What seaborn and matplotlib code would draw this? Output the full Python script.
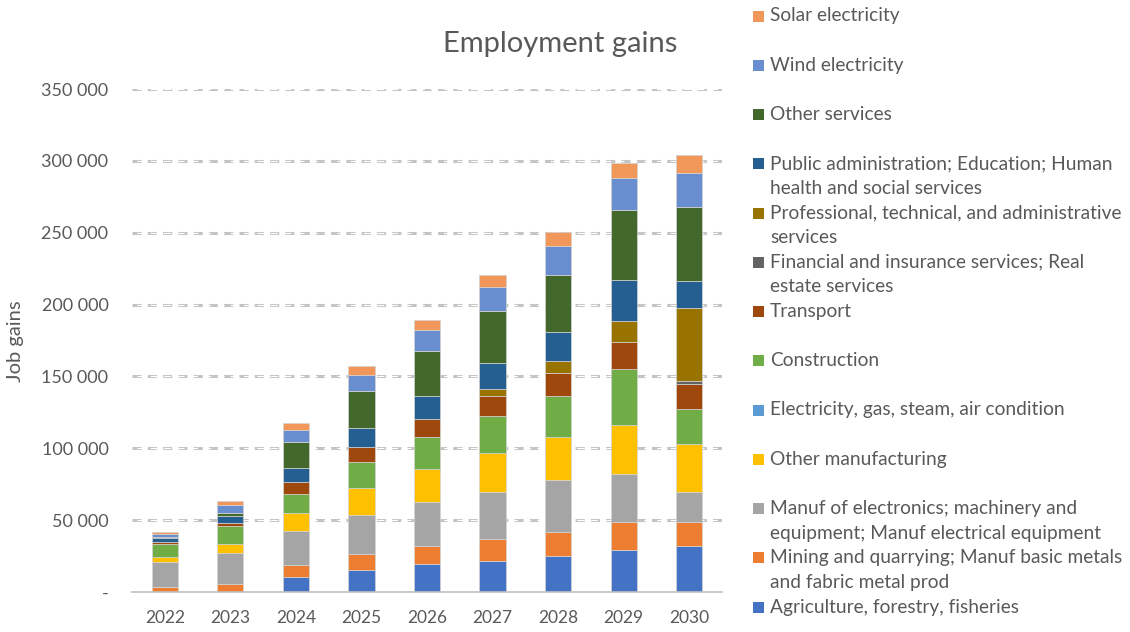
import matplotlib
matplotlib.use("Agg")
import matplotlib.pyplot as plt
import matplotlib.ticker as mticker
from matplotlib.patches import Rectangle
import seaborn as sns
import pandas as pd
import numpy as np

# --- data ---
years = ["2022", "2023", "2024", "2025", "2026", "2027", "2028", "2029", "2030"]

sectors = [
    "Agriculture, forestry, fisheries",
    "Mining and quarrying; Manuf basic metals and fabric metal prod",
    "Manuf of electronics; machinery and equipment; Manuf electrical equipment",
    "Other manufacturing",
    "Electricity, gas, steam, air condition",
    "Construction",
    "Transport",
    "Financial and insurance services; Real estate services",
    "Professional, technical, and administrative services",
    "Public administration; Education; Human health and social services",
    "Other services",
    "Wind electricity",
    "Solar electricity",
]

legend_labels = [
    "Agriculture, forestry, fisheries",
    "Mining and quarrying; Manuf basic metals\nand fabric metal prod",
    "Manuf of electronics; machinery and\nequipment; Manuf electrical equipment",
    "Other manufacturing",
    "Electricity, gas, steam, air condition",
    "Construction",
    "Transport",
    "Financial and insurance services; Real\nestate services",
    "Professional, technical, and administrative\nservices",
    "Public administration; Education; Human\nhealth and social services",
    "Other services",
    "Wind electricity",
    "Solar electricity",
]

agriculture = [0, 0, 10200, 15500, 19500, 21500, 24800, 29400, 31700]
mining = [3200, 5600, 8300, 10900, 12500, 15700, 16900, 19200, 16900]
manuf_electronics = [17600, 21300, 23600, 26900, 30800, 32600, 36100, 33300, 20800]
other_manufacturing = [3900, 6300, 13200, 19200, 22900, 27100, 30100, 34500, 33800]
electricity_gas = [0, 0, 0, 0, 0, 0, 0, 0, 0]
construction = [8600, 12500, 13200, 18300, 22500, 25500, 28200, 39100, 23800]
transport = [1400, 2100, 7900, 10200, 12300, 13900, 16400, 18500, 18000]
financial = [0, 0, 0, 0, 0, 0, 0, 0, 2100]
professional = [0, 0, 0, 0, 0, 5300, 8300, 14600, 50700]
public_admin = [3200, 4900, 9700, 13200, 16200, 18000, 20100, 28500, 18500]
other_services = [600, 2100, 18500, 26000, 30800, 35900, 40000, 48600, 51600]
wind = [1900, 5600, 8300, 11000, 14600, 16900, 19900, 22200, 23800]
solar = [1600, 3200, 4900, 6000, 6900, 7900, 9500, 10900, 12300]

series = [agriculture, mining, manuf_electronics, other_manufacturing, electricity_gas,
          construction, transport, financial, professional, public_admin,
          other_services, wind, solar]

colors = ["#4472C4", "#ED7D31", "#A5A5A5", "#FFC000", "#5B9BD5", "#70AD47", "#9E480E",
          "#636363", "#997300", "#255E91", "#43682B", "#698ED0", "#F1975A"]

text_color = "#595959"

sns.set_theme(style="white")
plt.rcParams["font.family"] = ["Lato", "DejaVu Sans"]

fig = plt.figure(figsize=(11.3, 6.32), dpi=100)
ax = fig.add_axes([132 / 1130, 1 - 592 / 632, (722 - 132) / 1130, (592 - 89) / 632])

# --- stacked bars ---
bottom = np.zeros(len(years))
for name, vals, col in zip(sectors, series, colors):
    df = pd.DataFrame({"year": years, "jobs": vals})
    sns.barplot(data=df, x="year", y="jobs", color=col, width=0.4, bottom=bottom,
                edgecolor="#d4d4d4", linewidth=0.5, saturation=1, ax=ax, zorder=3)
    bottom = bottom + np.array(vals)

# empty segments should not leave an outline behind
for p in ax.patches:
    if p.get_height() == 0:
        p.set_visible(False)

# --- axes styling ---
ax.set_ylim(0, 350000)
ax.set_xlim(-0.5, len(years) - 0.5)
ax.set_xlabel("")
ax.set_ylabel("")

yticks = np.arange(0, 350001, 50000)
ax.set_yticks(yticks)
ax.yaxis.set_major_formatter(mticker.FuncFormatter(
    lambda v, p: "-" if v == 0 else f"{int(v):,}".replace(",", " ")))
ax.tick_params(axis="y", length=0, labelsize=13, labelcolor=text_color, pad=17)
ax.tick_params(axis="x", which="major", length=0, labelsize=12.5, labelcolor=text_color, pad=13)

ax.set_xticks(np.arange(-0.5, len(years), 1.0), minor=True)
ax.tick_params(axis="x", which="minor", length=6, width=1, color="#bfbfbf", direction="out")

for s in ["left", "right", "top"]:
    ax.spines[s].set_visible(False)
ax.spines["bottom"].set_color("#bfbfbf")
ax.spines["bottom"].set_linewidth(1.2)
ax.spines["bottom"].set_zorder(4)

# dashed double-line gridlines
for y in yticks[1:]:
    ax.axhline(y, color="#c4c4c4", lw=2.2, linestyle=(0, (3.0, 2.0)), zorder=1)
    ax.axhline(y, color="white", lw=0.8, linestyle=(7.6, (6.4, 5.6)), zorder=1.5)

# --- titles ---
fig.text(560 / 1130, 1 - 44 / 632, "Employment gains", ha="center", va="center",
         fontsize=21, color=text_color)
fig.text(16 / 1130, 1 - 341 / 632, "Job gains", ha="center", va="center",
         rotation=90, fontsize=14.5, color=text_color)

# --- legend (reverse order, evenly spaced like the original) ---
first_y = 16
step = 49.25
for i, (lab, col) in enumerate(zip(legend_labels[::-1], colors[::-1])):
    yc = first_y + i * step
    fig.patches.append(Rectangle((753 / 1130, 1 - (yc + 5.5) / 632), 11 / 1130, 11 / 632,
                                 transform=fig.transFigure, facecolor=col,
                                 edgecolor="none", figure=fig))
    fig.text(770 / 1130, 1 - (yc - 8.5) / 632, lab, ha="left", va="top",
             fontsize=13.8, color=text_color, linespacing=1.55)

fig.savefig("out.png", dpi=100, facecolor="white")
